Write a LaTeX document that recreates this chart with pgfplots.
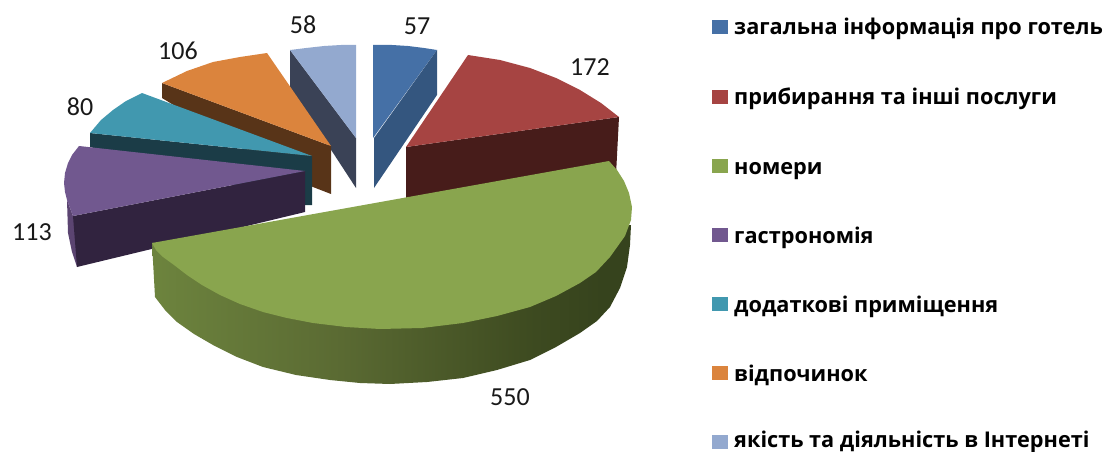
\documentclass[border=0pt]{standalone}
\usepackage{fontspec}
\setmainfont{Carlito}
\newfontfamily\legfont{Open Sans}
\usepackage{pgfplots}
\pgfplotsset{compat=1.18}
\definecolor{blueT}{HTML}{4570A6}
\definecolor{blueS}{HTML}{34567F}
\definecolor{redT}{HTML}{A64442}
\definecolor{redS}{HTML}{471C1A}
\definecolor{greenT}{HTML}{89A54E}
\definecolor{purpT}{HTML}{71588F}
\definecolor{purpS}{HTML}{31233F}
\definecolor{purpR}{HTML}{5B4471}
\definecolor{tealT}{HTML}{4198AF}
\definecolor{tealS}{HTML}{1B3C47}
\definecolor{oranT}{HTML}{DB843D}
\definecolor{oranS}{HTML}{583418}
\definecolor{lblueT}{HTML}{93A9CF}
\definecolor{lblueS}{HTML}{3A4256}
\definecolor{gs0}{HTML}{7A9646}
\definecolor{gs1}{HTML}{5B6B33}
\definecolor{gs2}{HTML}{3D4A20}
\definecolor{gs3}{HTML}{36431D}
\pgfdeclarehorizontalshading{greenside}{100bp}{
 color(0bp)=(gs0); color(11bp)=(gs0); color(44bp)=(gs1);
 color(65bp)=(gs2); color(72bp)=(gs3); color(100bp)=(gs3)}
\begin{document}
\begin{tikzpicture}
\useasboundingbox (0,0) rectangle (1108pt,452pt);
\begin{axis}[
  at={(0,0)}, anchor=south west,
  scale only axis, width=1108pt, height=452pt,
  xmin=0, xmax=1108, ymin=0, ymax=452, y dir=reverse,
  hide axis, clip=true, no markers]
% light blue
\addplot[fill=lblueS,draw=none] coordinates {(290,50)(356,138)(356,188)(290,87)};
\addplot[fill=lblueT,draw=none] coordinates {(290,50)(306,48)(324,46)(341,45)(356,45)(356,138)};
% blue
\addplot[fill=blueT,draw=none] coordinates {(373,45)(392,45)(408,46)(424,48)(437,50)(373,138)};
\addplot[fill=blueS,draw=none] coordinates {(437,50)(437,95)(374,188)(374,138)};
% red
\addplot[fill=redS,draw=none] coordinates {(406,147)(619,117)(616,175)(406,205)};
\addplot[fill=redT,draw=none] coordinates {(468,55)(500,60)(530,68)(556,78)(580,90)(601,103)(619,117)(406,147)};
% orange
\addplot[fill=oranS,draw=none] coordinates {(162,83)(331,146)(331,194)(300,182)(162,98)};
\addplot[fill=oranT,draw=none] coordinates {(162,83)(187,71)(213,62)(240,57)(267,53)(331,146)};
% teal
\addplot[fill=tealS,draw=none] coordinates {(90,133)(312,156)(312,205)(304,205)(90,147)};
\addplot[fill=tealT,draw=none] coordinates {(142,93)(126,101)(113,110)(101,120)(90,133)(312,156)};
% purple
\addplot[fill=purpR,draw=none] coordinates {(67,200)(68,233)(72,252)(77,267)(80,240)(73,216)};
\addplot[fill=purpS,draw=none] coordinates {(73,216)(305,171)(305,212)(77,267)};
\addplot[fill=purpT,draw=none] coordinates {(79,146)(72,155)(68,163)(65,173)(64,183)(65,192)(67,200)(73,216)(305,171)};
% green
\addplot[shading=greenside,draw=none] coordinates {(152,243)(155,297)(165,310)(177,322)(194,334)(213,345)(237,357)(263,367)(296,375)(330,380)(360,383)(390,384)(427,382)(463,378)(497,370)(530,360)(556,347)(580,333)(597,321)(610,307)(620,288)(627,267)(630,245)(631,225)};
\addplot[fill=greenT,draw=none] coordinates {(152,243)(609,161)(617,170)(624,181)(629,193)(632,207)(631,220)(625,236)(610,257)(596,272)(580,283)(556,296)(530,307)(497,316)(463,323)(422,328)(380,329)(346,327)(313,323)(287,318)(263,312)(240,304)(220,295)(202,285)(187,275)(174,265)(163,257)(156,250)};
% legend swatches
\addplot[fill=blueT,draw=none] coordinates {(712,20)(728,20)(728,34)(712,34)};
\addplot[fill=redT,draw=none] coordinates {(712,90)(728,90)(728,104)(712,104)};
\addplot[fill=greenT,draw=none] coordinates {(712,159)(728,159)(728,173)(712,173)};
\addplot[fill=purpT,draw=none] coordinates {(712,228)(728,228)(728,242)(712,242)};
\addplot[fill=tealT,draw=none] coordinates {(712,297)(728,297)(728,311)(712,311)};
\addplot[fill=oranT,draw=none] coordinates {(712,366)(728,366)(728,380)(712,380)};
\addplot[fill=lblueT,draw=none] coordinates {(712,435)(728,435)(728,449)(712,449)};
% data labels
\begin{scope}[every node/.style={font=\fontsize{26}{30}\selectfont, text=black!90, inner sep=0pt}]
\node at (axis cs:417,26) {57};
\node at (axis cs:590,67) {172};
\node at (axis cs:510,397) {550};
\node at (axis cs:32,232) {113};
\node at (axis cs:80,107) {80};
\node at (axis cs:178,51) {106};
\node at (axis cs:303,25) {58};
\end{scope}
\begin{scope}[every node/.style={font=\legfont\fontsize{21.7}{26}\selectfont\bfseries, text=black, inner sep=0pt, anchor=base west}]
\node at (axis cs:734,35) {загальна інформація про готель};
\node at (axis cs:734,104.5) {прибирання та інші послуги};
\node at (axis cs:734,174) {номери};
\node at (axis cs:734,243) {гастрономія};
\node at (axis cs:734,312) {додаткові приміщення};
\node at (axis cs:734,381) {відпочинок};
\node at (axis cs:734,447.5) {якість та діяльність в Інтернеті};
\end{scope}
\end{axis}
\end{tikzpicture}
\end{document}
